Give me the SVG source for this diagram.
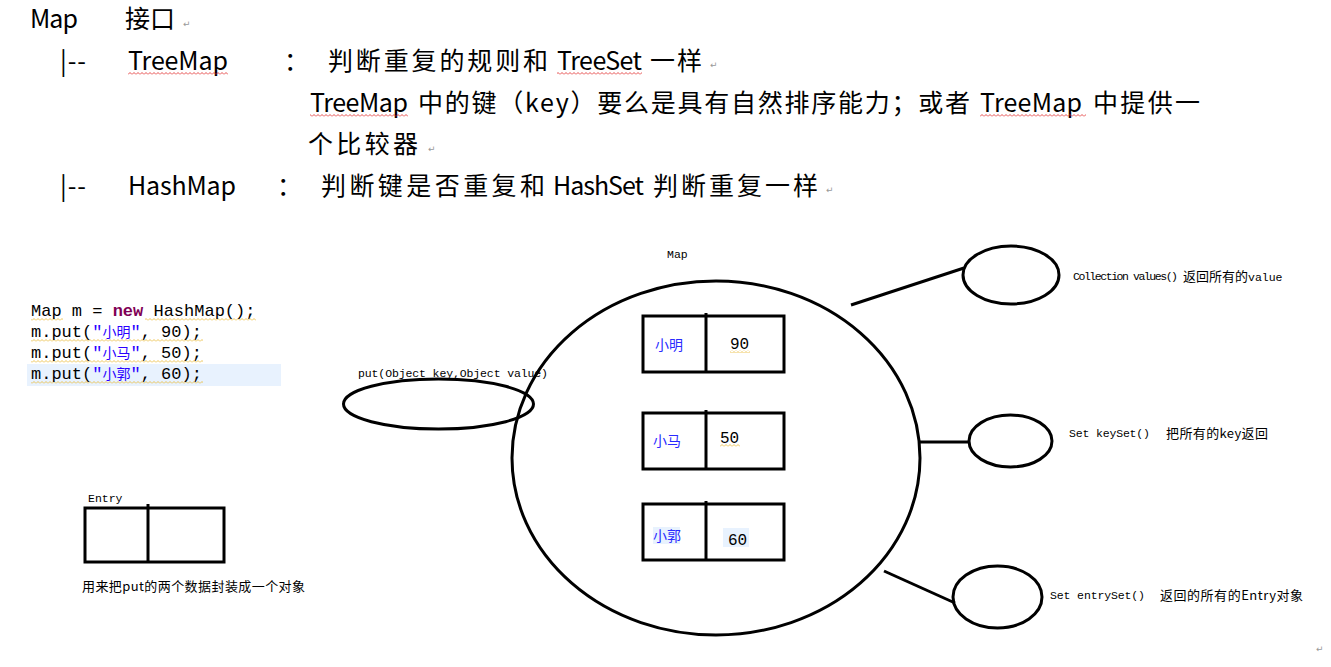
<svg xmlns="http://www.w3.org/2000/svg" width="1331" height="667" viewBox="0 0 1331 667">
<style>
.body{font-family:"Noto Sans CJK SC","Noto Sans",sans-serif;font-size:25px;fill:#000}
.pm{font-family:"DejaVu Sans",sans-serif;font-size:9px;fill:#999}
.code{font-family:"Liberation Mono",monospace;font-size:17px;fill:#000}
.kw{font-weight:bold;fill:#7f0055}
.str{fill:#2a00ff}
.cjk{font-family:"Noto Sans CJK SC",sans-serif;font-size:14px}
.mono{font-family:"Liberation Mono",monospace;font-size:11.5px;fill:#000}
.small{font-family:"Noto Sans CJK SC",sans-serif;font-size:13px;fill:#000}
.shape{fill:none;stroke:#000;stroke-width:3}
.boxk{font-family:"Noto Sans CJK SC",sans-serif;font-size:14px;fill:#2a2aff}
.boxv{font-family:"Liberation Mono",monospace;font-size:16px;fill:#000}
</style>
<defs>
<pattern id="sqR" width="4" height="3" patternUnits="userSpaceOnUse"><path d="M0,2.5 L2,0.5 L4,2.5" fill="none" stroke="#e02020" stroke-width="0.8"/></pattern>
<pattern id="sqY" width="4" height="3" patternUnits="userSpaceOnUse"><path d="M0,2.5 L2,0.5 L4,2.5" fill="none" stroke="#e8b830" stroke-width="0.8"/></pattern>
</defs>
<rect width="1331" height="667" fill="#fff"/>

<g id="header">
<text class="body" x="30" y="28" textLength="48">Map</text>
<text class="body" x="125" y="28" textLength="50">接口</text>
<text class="pm" x="183" y="27">↵</text>

<text class="body" x="60" y="70" textLength="26">|--</text>
<text class="body" x="128" y="70" textLength="100">TreeMap</text>
<rect x="128" y="72" width="100" height="3" fill="url(#sqR)"/>
<text class="body" x="284" y="70">：</text>
<text class="body" x="328" y="70" textLength="220">判断重复的规则和</text>
<text class="body" x="557" y="70" textLength="85">TreeSet</text>
<rect x="557" y="72" width="85" height="3" fill="url(#sqR)"/>
<text class="body" x="650" y="70" textLength="52">一样</text>
<text class="pm" x="710" y="68">↵</text>

<text class="body" x="310" y="112" textLength="98">TreeMap</text>
<rect x="310" y="114" width="98" height="3" fill="url(#sqR)"/>
<text class="body" x="418" y="112" textLength="552">中的键（key）要么是具有自然排序能力；或者</text>
<text class="body" x="980" y="112" textLength="102">TreeMap</text>
<rect x="980" y="114" width="106" height="3" fill="url(#sqR)"/>
<text class="body" x="1093" y="112" textLength="107">中提供一</text>

<text class="body" x="308" y="153" textLength="110">个比较器</text>
<text class="pm" x="428" y="152">↵</text>

<text class="body" x="60" y="195" textLength="26">|--</text>
<text class="body" x="128" y="195" textLength="108">HashMap</text>
<text class="body" x="277" y="195">：</text>
<text class="body" x="321" y="195" textLength="224">判断键是否重复和</text>
<text class="body" x="553" y="195" textLength="91">HashSet</text>
<text class="body" x="653" y="195" textLength="165">判断重复一样</text>
<text class="pm" x="826" y="193">↵</text>
</g>

<g id="code">
<rect x="27" y="364" width="254" height="22" fill="#e8f2fe"/>
<rect x="31" y="318" width="32" height="3" fill="url(#sqY)"/>
<rect x="145" y="318" width="111" height="3" fill="url(#sqY)"/>
<rect x="31" y="339" width="172" height="3" fill="url(#sqY)"/>
<rect x="31" y="360" width="172" height="3" fill="url(#sqY)"/>
<rect x="31" y="381" width="172" height="3" fill="url(#sqY)"/>
<text class="code" x="31" y="316">Map m = <tspan class="kw">new</tspan> HashMap();</text>
<text class="code" x="31" y="337">m.put(<tspan class="str">"<tspan class="cjk">小明</tspan>"</tspan>, 90);</text>
<text class="code" x="31" y="358">m.put(<tspan class="str">"<tspan class="cjk">小马</tspan>"</tspan>, 50);</text>
<text class="code" x="31" y="379">m.put(<tspan class="str">"<tspan class="cjk">小郭</tspan>"</tspan>, 60);</text>
</g>

<g id="entry">
<text class="mono" x="88" y="502">Entry</text>
<rect class="shape" x="85" y="508" width="139" height="54"/>
<line class="shape" x1="148" y1="504" x2="148" y2="562"/>
<text class="small" x="82" y="591" textLength="223">用来把put的两个数据封装成一个对象</text>
</g>

<g id="connectors">
<line class="shape" x1="851" y1="305" x2="964" y2="268"/>
<line class="shape" x1="919" y1="442" x2="970" y2="442"/>
<line class="shape" x1="884" y1="571" x2="955" y2="603"/>
</g>

<g id="map">
<text class="mono" x="667" y="258">Map</text>
<ellipse class="shape" cx="716" cy="458" rx="204" ry="177"/>
</g>

<g id="put">
<text class="mono" x="358" y="377" textLength="190">put(Object key,Object value)</text>
<ellipse class="shape" cx="438.5" cy="404" rx="95" ry="25"/>
</g>

<g id="entry1">
<rect class="shape" x="643" y="316" width="141" height="56"/>
<line class="shape" x1="706" y1="313" x2="706" y2="372"/>
<text class="boxk" x="655" y="350">小明</text>
<text class="boxv" x="730" y="349">90</text>
<rect x="730" y="350" width="20" height="3" fill="url(#sqY)"/>
</g>

<g id="entry2">
<rect class="shape" x="643" y="413" width="141" height="56"/>
<line class="shape" x1="706" y1="410" x2="706" y2="469"/>
<text class="boxk" x="653" y="446">小马</text>
<text class="boxv" x="720" y="443">50</text>
<rect x="720" y="444" width="20" height="3" fill="url(#sqY)"/>
</g>

<g id="entry3">
<rect class="shape" x="643" y="504" width="141" height="56"/>
<line class="shape" x1="706" y1="501" x2="706" y2="560"/>
<rect x="653" y="527" width="27" height="17" fill="#e8f2fe"/>
<text class="boxk" x="653" y="541">小郭</text>
<rect x="723" y="528" width="26" height="19" fill="#e8f2fe"/>
<text class="boxv" x="728" y="545">60</text>
</g>

<g id="values">
<ellipse class="shape" cx="1011" cy="275" rx="48" ry="29"/>
<text class="mono" x="1073" y="280" textLength="105">Collection values()</text>
<text class="small" x="1183" y="281">返回所有的<tspan class="mono" font-size="13">value</tspan></text>
</g>

<g id="keyset">
<ellipse class="shape" cx="1010.5" cy="441" rx="41.5" ry="26"/>
<text class="mono" x="1069" y="437" textLength="81">Set keySet()</text>
<text class="small" x="1166" y="438" textLength="102">把所有的key返回</text>
</g>

<g id="entryset">
<ellipse class="shape" cx="997.5" cy="597" rx="44.5" ry="31"/>
<text class="mono" x="1050" y="599" textLength="95">Set entrySet()</text>
<text class="small" x="1160" y="600" textLength="143">返回的所有的Entry对象</text>
</g>

<text class="pm" x="1316" y="652">↵</text>
</svg>
